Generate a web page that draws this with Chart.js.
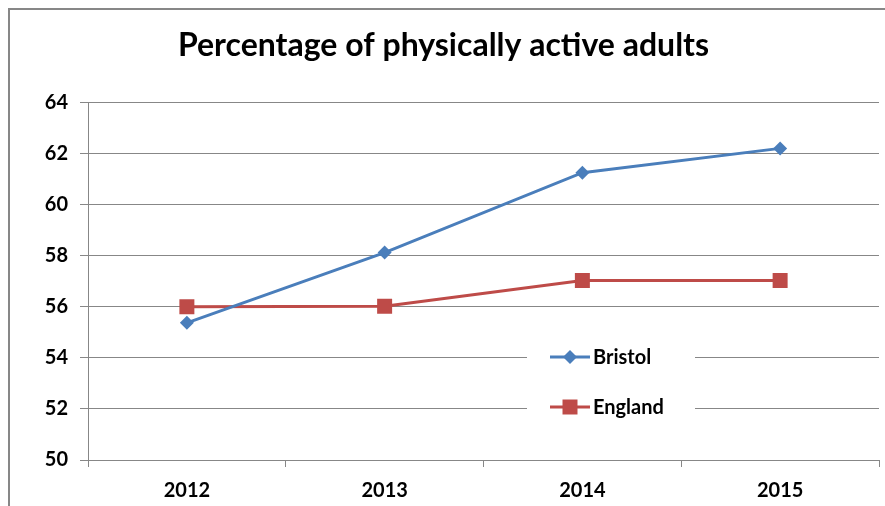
<!DOCTYPE html>
<html>
<head>
<meta charset="utf-8">
<script src="https://cdn.jsdelivr.net/npm/chart.js@4"></script>
<style>
  html, body { margin: 0; padding: 0; background: #fff; }
  #wrap { width: 885px; height: 506px; }
</style>
</head>
<body>
<div id="wrap"><canvas id="linechart" width="885" height="506"></canvas></div>
<script>
const years = ['2012', '2013', '2014', '2015'];
const bristol = [55.37, 58.12, 61.25, 62.2];
const england = [56.0, 56.02, 57.03, 57.03];
const yTicks = [50, 52, 54, 56, 58, 60, 62, 64];

const gray = '#878787';
const labelFont = { family: 'Lato', size: 20, weight: 'bold' };

// grey frame round the whole chart, like the spreadsheet export
const framePlugin = {
    id: 'frame',
    beforeDraw(chart) {
        const c = chart.ctx;
        c.save();
        c.fillStyle = '#fff';
        c.fillRect(0, 0, chart.width, chart.height);
        c.strokeStyle = gray;
        c.lineWidth = 2;
        c.beginPath();
        c.moveTo(9, chart.height + 5);
        c.lineTo(9, 9);
        c.lineTo(chart.width + 5, 9);
        c.stroke();
        c.restore();
    }
};

// legend sits inside the plot on a white box that hides the gridlines
const insideLegend = {
    id: 'insideLegend',
    beforeDatasetsDraw(chart) {
        const c = chart.ctx;
        const x = 527, y0 = 357, rowH = 50;
        c.save();
        c.fillStyle = '#fff';
        c.fillRect(x, y0 - 22, 168, rowH + 44);
        chart.data.datasets.forEach((ds, i) => {
            const y = y0 + i * rowH;
            c.strokeStyle = ds.borderColor;
            c.lineWidth = 3;
            c.beginPath();
            c.moveTo(x + 23, y);
            c.lineTo(x + 63, y);
            c.stroke();
            c.fillStyle = ds.backgroundColor;
            Chart.helpers.drawPoint(c, {
                pointStyle: ds.pointStyle,
                radius: ds.pointRadius,
                borderWidth: 0
            }, x + 43, y);
            c.fillStyle = '#000';
            c.font = 'bold 20px Lato';
            c.textBaseline = 'middle';
            c.fillText(ds.label, x + 66, y + 1);
        });
        c.restore();
    }
};

const ctx = document.getElementById('linechart').getContext('2d');
const myChart = new Chart(ctx, {
    type: 'line',
    data: {
        labels: years,
        datasets: [{
            label: 'Bristol',
            data: bristol,
            borderColor: '#4A7EBB',
            backgroundColor: '#4A7EBB',
            borderWidth: 3,
            pointStyle: 'rectRot',
            pointRadius: 7,
            pointBorderWidth: 0,
            tension: 0
        }, {
            label: 'England',
            data: england,
            borderColor: '#BE4B48',
            backgroundColor: '#BE4B48',
            borderWidth: 3,
            pointStyle: 'rect',
            pointRadius: 10.6,
            pointBorderWidth: 0,
            tension: 0
        }]
    },
    options: {
        responsive: false,
        animation: false,
        layout: { autoPadding: false, padding: { left: 8, right: 6, top: 0, bottom: 0 } },
        plugins: {
            legend: { display: false },
            tooltip: { enabled: false },
            title: {
                display: true,
                text: 'Percentage of physically active adults',
                color: '#000',
                font: { family: 'Lato', size: 32, weight: 'bold' },
                padding: { top: 26, bottom: 38 }
            }
        },
        scales: {
            x: {
                offset: true,
                grid: {
                    offset: true,
                    drawOnChartArea: false,
                    drawTicks: true,
                    tickLength: 7,
                    color: gray
                },
                border: { color: gray, width: 1 },
                ticks: { color: '#000', font: labelFont, padding: 12 },
                afterFit(scale) { scale.height = 46; }
            },
            y: {
                min: 50,
                max: 64,
                afterBuildTicks(scale) { scale.ticks = yTicks.map(v => ({ value: v })); },
                grid: { color: gray, tickLength: 8 },
                border: { color: gray, width: 1 },
                ticks: { color: '#000', font: labelFont, padding: 12 },
                afterFit(scale) { scale.width = 80; }
            }
        }
    },
    plugins: [framePlugin, insideLegend]
});
</script>
</body>
</html>
